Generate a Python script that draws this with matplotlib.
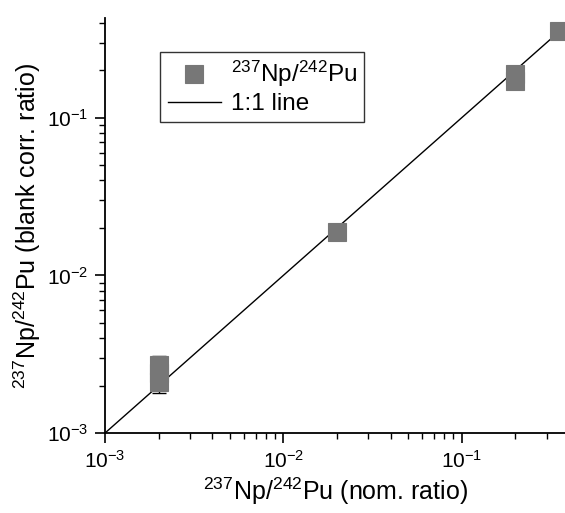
import numpy as np
import matplotlib
matplotlib.use("Agg")
import matplotlib.pyplot as plt

plt.rcParams["font.family"] = ["Liberation Sans", "DejaVu Sans"]
plt.rcParams["mathtext.fontset"] = "custom"
plt.rcParams["mathtext.rm"] = "Liberation Sans"
plt.rcParams["mathtext.it"] = "Liberation Sans:italic"
plt.rcParams["mathtext.bf"] = "Liberation Sans:bold"

# 名义比值与扣除空白后的比值
x_nom = [0.002, 0.002, 0.002, 0.02, 0.2, 0.2, 0.35]
y_corr = [0.0021, 0.0024, 0.0027, 0.0188, 0.172, 0.19, 0.355]
y_err = [0.0003, 0.0003, 0.0004, 0.0009, 0.010, 0.012, 0.02]

# 1:1 参考线
line_x = [1e-3, 1.0]
line_y = [1e-3, 1.0]

fig = plt.figure(figsize=(5.65, 5.13), dpi=100)
ax = fig.add_axes([0.186, 0.156, 0.814, 0.809])

ax.plot(line_x, line_y, color="black", lw=1.0, label="1:1 line", zorder=2)
ax.errorbar(x_nom, y_corr, yerr=y_err, fmt="none", ecolor="black",
            elinewidth=1.0, capsize=5, capthick=1.0, zorder=3)
ax.plot(x_nom, y_corr, "s", ms=13, mfc="#777777", mec="#777777", mew=0.8,
        linestyle="none", label=r"$^{237}$Np/$^{242}$Pu", zorder=4)

ax.set_xscale("log")
ax.set_yscale("log")
ax.set_xlim(1e-3, 0.38)
ax.set_ylim(1e-3, 0.43)

ax.spines["top"].set_visible(False)
ax.spines["right"].set_visible(False)
ax.spines["left"].set_linewidth(1.3)
ax.spines["bottom"].set_linewidth(1.3)
ax.tick_params(which="major", direction="out", length=7, width=1.2, labelsize=15, pad=5)
ax.tick_params(which="minor", direction="out", length=4, width=1.0)

ax.set_xlabel(r"$^{237}$Np/$^{242}$Pu (nom. ratio)", fontsize=18, labelpad=3)
ax.set_ylabel(r"$^{237}$Np/$^{242}$Pu (blank corr. ratio)", fontsize=18, labelpad=3)

h, l = ax.get_legend_handles_labels()
leg = ax.legend(h[::-1], l[::-1], loc="upper left", bbox_to_anchor=(0.12, 0.918),
                fontsize=17.5, frameon=True, fancybox=False, edgecolor="black",
                borderpad=0.3, borderaxespad=0.0, handlelength=2.2,
                handletextpad=0.4, labelspacing=0.15)
leg.get_frame().set_linewidth(1.0)

fig.savefig("out.png", dpi=100)
